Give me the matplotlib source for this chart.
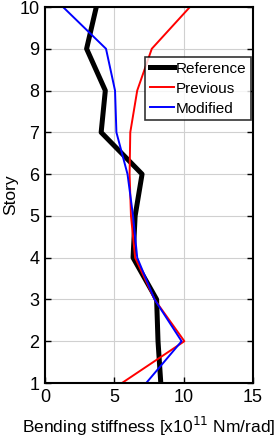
import numpy as np
from matplotlib import pyplot as plt

plt.rcParams.update({
    "font.family": ["Liberation Sans", "DejaVu Sans"],
    "xtick.direction": "in",
    "ytick.direction": "in",
    "ytick.right": True,
    "xtick.top": False,
    "axes.linewidth": 1.5,
})

story = [1, 2, 3, 4, 5, 6, 7, 8, 9, 10]
reference = [8.35, 8.15, 8.05, 6.35, 6.5, 7.0, 4.05, 4.35, 3.0, 3.7]
previous = [5.55, 10.05, 7.9, 6.5, 6.2, 6.1, 6.15, 6.65, 7.7, 10.45]
modified = [7.3, 9.85, 7.9, 6.65, 6.35, 5.95, 5.15, 5.05, 4.4, 1.3]

fig = plt.figure(figsize=(2.75, 4.43), dpi=100)
ax = fig.add_axes([45 / 275, 60 / 443, 208 / 275, 376 / 443])

ax.plot(reference, story, color="black", lw=3.6, label="Reference")
ax.plot(previous, story, color="red", lw=1.4, label="Previous")
ax.plot(modified, story, color="blue", lw=1.4, label="Modified")

ax.set_xlim(0, 15)
ax.set_ylim(1, 10)
ax.set_xticks([0, 5, 10, 15])
ax.set_yticks(range(1, 11))
ax.tick_params(labelsize=13, width=1, length=4, pad=4)
ax.grid(color="#d0d0d0", lw=0.8)

ax.set_xlabel("Bending stiffness [x10$^{11}$ Nm/rad]", fontsize=12.5, labelpad=7)
ax.set_ylabel("Story", fontsize=12.5, labelpad=1)

leg = ax.legend(loc="upper right", bbox_to_anchor=(0.99, 0.867), fontsize=11,
                frameon=True, fancybox=False, edgecolor="black",
                handlelength=1.6, handletextpad=0.1, borderpad=0.3,
                labelspacing=0.4, borderaxespad=0)
leg.get_frame().set_linewidth(1.2)

fig.savefig("out.png", dpi=100)
